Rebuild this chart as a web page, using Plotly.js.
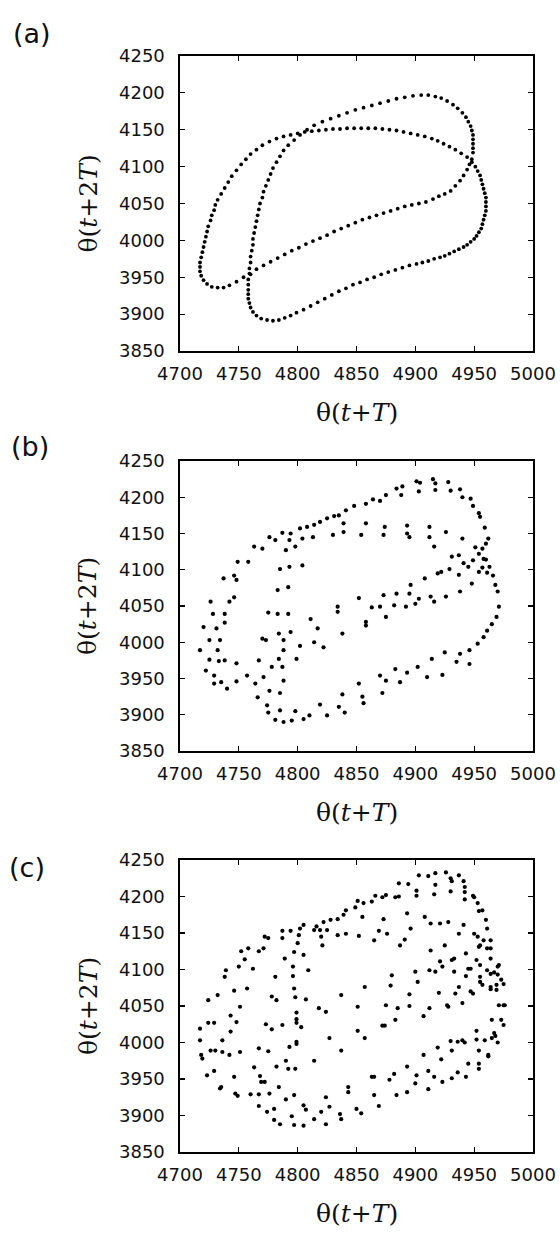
<!DOCTYPE html>
<html>
<head>
<meta charset="utf-8">
<script src="https://cdn.plot.ly/plotly-3.0.1.min.js"></script>
<style>html,body{margin:0;padding:0;background:#fff;}#chart{width:560px;height:1237px;}</style>
</head>
<body>
<div id="chart"></div>
<script>
// Panel (a): points along the closed orbit
const aX = [4948,4946,4944,4941,4938,4934,4930,4925,4920,4915,4909,4903,4897,4891,4885,4879,4873,4867,4861,4855,4849,4843,4837,4831,4825,4819,4813,4807,4801,4795,4789,4783,4777,4771,4765,4760,4754,4748,4742,
4737,4732,4727,4723,4720,4718,4717,4717,4717,4718,4719,4720,4721,4722,4723,4724,4726,4727,4729,4730,4732,4735,4738,4741,4744,4748,4752,4756,4760,4765,4770,4776,4782,4788,4794,4800,4806,4812,4818,4824,4830,4836,4842,4848,4854,4860,4866,4872,4878,4884,4890,4896,4902,4908,4914,4919,4924,4929,4934,4939,4944,
4948,4951,4953,4955,4956,4957,4958,4959,4960,4960,4960,4960,4959,4958,4957,4956,4954,4952,4950,4947,4944,4941,4937,4933,4929,4925,4921,4916,4911,4906,4901,4895,4889,4883,4877,4871,4865,4859,4853,4847,4841,4835,4829,4823,4817,4811,4805,4799,4794,4789,4784,4779,4774,4769,4765,4762,4760,4759,4758,4758,4758,4758,4758,
4759,4759,4760,4760,4761,4762,4762,4763,4764,4765,4766,4767,4768,4770,4771,4773,4775,4777,4779,4782,4785,4788,4792,4797,4802,4808,4814,4821,4828,4835,4842,4849,4856,4863,4870,4877,4884,4891,4898,4905,4911,4917,4922,4927,4932,4936,4940,4943,4945,4947,4948,4949,4949,4949,4949,4949];
const aY = [4110,4103,4096,4088,4081,4074,4067,4063,4060,4056,4052,4050,4048,4046,4043,4040,4037,4034,4031,4028,4024,4020,4016,4012,4007,4003,3999,3995,3990,3986,3981,3976,3971,3966,3961,3954,3950,3944,3939,
3936,3936,3937,3941,3946,3952,3958,3964,3970,3977,3984,3991,3998,4005,4012,4019,4027,4034,4041,4048,4055,4063,4071,4079,4087,4095,4103,4110,4117,4123,4129,4134,4138,4141,4143,4145,4147,4148,4149,4150,4151,4151,4152,4152,4152,4152,4152,4151,4150,4149,4147,4145,4143,4141,4138,4135,4131,4127,4123,4118,4113,
4106,4100,4094,4088,4082,4076,4070,4064,4058,4052,4046,4040,4034,4028,4022,4016,4011,4006,4002,3998,3994,3991,3988,3985,3982,3979,3977,3975,3972,3970,3968,3966,3963,3960,3957,3954,3950,3947,3943,3940,3935,3931,3926,3921,3916,3911,3906,3902,3898,3895,3892,3891,3892,3894,3898,3903,3909,3915,3921,3927,3933,3940,3947,
3955,3962,3970,3978,3986,3994,4002,4010,4018,4026,4034,4042,4050,4058,4066,4074,4082,4090,4098,4106,4114,4122,4129,4136,4143,4150,4156,4161,4165,4169,4173,4177,4180,4183,4186,4189,4192,4194,4196,4197,4197,4195,4193,4189,4184,4179,4173,4167,4161,4155,4149,4143,4137,4131,4125,4119];

// Panel (b): scattered points
const bX = [4901,4904,4903,4915,4917,4917,4928,4930,4938,4940,4947,4949,4954,4955,4959,4962,4960,4957,4958,4963,4966,4968,4970,4971,4969,4965,4961,4958,4953,4946,4946,4938,4935,4925,4923,4914,4910,4902,4893,4887,4883,4875,4870,4872,4852,4856,4855,4838,4840,4835,4825,4819,4810,4805,4798,4795,4788,4781,4785,4775,4774,4766,4776,4785,4764,4771,4757,4748,4740,4735,4729,4729,4722,4725,4717,4732,4733,4738,4748,4725,4734,4720,4731,4738,4728,4738,4726,4742,4746,4737,4746,4748,4749,4758,4763,4770,4776,4781,4787,4794,4802,4808,4814,4819,4825,4831,4835,4841,4848,4858,4864,4870,4875,4884,4888,4889,
4790,4793,4798,4804,4813,4804,4793,4785,4792,4783,4783,4792,4784,4788,4794,4802,4799,4788,4784,4778,4787,4788,4773,4770,4767,4775,4811,4817,4814,4822,4834,4834,4838,4852,4863,4858,4858,4870,4873,4875,4882,4884,4892,4895,4896,4900,4903,4908,4913,4916,4919,4922,4926,4929,4931,4937,4937,4938,4941,4945,4949,4948,4954,4951,4954,4957,4961,4960,4940,4926,4916,4912,4912,4893,4893,4895,4874,4873,4858,4854,4839,4839,4830];
const bY = [4222,4220,4208,4225,4210,4219,4221,4209,4211,4200,4198,4188,4178,4173,4158,4143,4136,4129,4115,4104,4092,4079,4070,4049,4035,4025,4016,4007,3998,3989,3970,3984,3973,3986,3955,3977,3952,3966,3958,3945,3963,3947,3954,3930,3943,3916,3925,3928,3903,3911,3899,3914,3899,3894,3905,3892,3890,3893,3906,3903,3913,3924,3933,3930,3943,3952,3954,3946,3936,3945,3943,3954,3961,3976,3989,3989,3974,3975,3971,4003,4003,4021,4019,4027,4039,4039,4056,4056,4062,4088,4092,4086,4111,4111,4132,4129,4145,4141,4151,4150,4157,4159,4162,4166,4171,4174,4175,4182,4188,4191,4197,4195,4203,4212,4203,4215,
4127,4141,4132,4143,4145,4106,4104,4101,4076,4072,4039,4039,4012,4003,4014,3995,3977,3989,3977,3966,3966,3947,4003,4005,3975,4041,4032,4019,4000,3993,4049,4042,4012,4061,4048,4028,4023,4049,4065,4035,4051,4067,4049,4067,4079,4053,4060,4088,4063,4056,4095,4097,4063,4101,4118,4120,4093,4070,4109,4104,4113,4081,4122,4131,4097,4103,4096,4114,4143,4152,4132,4159,4145,4161,4150,4145,4159,4148,4164,4148,4164,4152,4148];

// Panel (c): scattered points
const cX = [4903,4911,4917,4926,4930,4931,4937,4941,4917,4930,4942,4942,4942,4916,4901,4901,4894,4886,4886,4883,4875,4872,4866,4863,4856,4851,4849,4841,4839,4834,4828,4822,4816,4819,4814,4805,4802,4801,4794,4787,4787,4775,4772,4771,4767,4758,4752,4755,4750,4762,4739,4738,4732,4724,4724,4729,4717,4717,4718,4719,4723,4729,4726,4730,4736,4736,4742,4743,4743,4748,4746,4751,4757,
4734,4735,4746,4747,4749,4751,4760,4767,4767,4774,4780,4780,4785,4768,4769,4772,4763,4767,4775,4776,4784,4782,4790,4790,4792,4798,4797,4795,4797,4805,4805,4807,4814,4820,4824,4824,4827,4836,4837,4843,4843,4850,4854,4863,4865,4865,4869,4878,4882,4884,4893,4893,4900,4901,4911,4911,4916,4923,4931,4936,4943,4945,4954,4954,4954,4962,4962,4970,4968,4965,4959,4952,4952,4940,4942,4936,4931,4930,4922,4919,4907,
4907,4920,4928,4934,4940,4949,4947,4945,4933,4931,4933,4921,4912,4917,4913,4921,4928,4925,4941,4943,4947,4937,4950,4953,4954,4955,4958,4961,4964,4964,4961,4960,4957,4953,4954,4950,4949,4952,4955,4955,4955,4957,4961,4964,4964,4964,4967,4970,4971,4970,4969,4973,4975,4971,4975,4976,4973,4975,4965,4967,4969,4964,
4880,4879,4875,4872,4874,4857,4851,4851,4857,4837,4837,4827,4824,4818,4814,4807,4809,4805,4800,4797,4796,4796,4797,4798,4799,4799,4799,4803,4799,4799,4793,4787,4789,4781,4778,4782,4773,4778,4825,4820,4821,4834,4841,4852,4855,4865,4869,4873,4876,4887,4891,4893,4896,4900,4902,4895,4895,4885,4883,4908,4912,4923,4927,4937,4943,4913];
const cY = [4229,4228,4232,4233,4225,4221,4229,4221,4216,4207,4213,4206,4196,4203,4208,4201,4217,4218,4200,4199,4202,4199,4201,4193,4191,4194,4185,4181,4175,4169,4168,4165,4159,4154,4154,4161,4156,4147,4153,4153,4143,4143,4145,4129,4125,4129,4125,4114,4104,4101,4099,4090,4065,4058,4027,4027,4019,4003,3983,3978,3955,3961,3989,3989,4003,3987,3983,4015,4037,4028,4071,4049,4074,
3937,3939,3953,3930,3927,3987,3929,3929,3913,3905,3909,3894,3888,3954,3946,3946,3966,3992,3988,3930,3939,3967,3922,3975,3964,3964,3928,3899,3887,3886,3914,3908,3895,3905,3925,3888,3912,3902,3895,3939,3932,3909,3903,3953,3953,3928,3913,3949,3957,3928,3932,3967,3944,3955,3936,3961,3953,3946,3951,3959,3953,3971,3964,3971,3989,3983,3981,4000,4009,4006,4003,4004,4016,4003,4000,4001,3989,4002,3977,3993,3983,
4036,4068,4049,4067,4054,4067,4070,4101,4097,4113,4115,4111,4099,4097,4126,4163,4165,4133,4161,4122,4101,4149,4149,4145,4131,4133,4140,4129,4129,4140,4156,4168,4181,4191,4180,4199,4201,4113,4106,4090,4083,4079,4099,4094,4076,4115,4096,4104,4106,4093,4079,4086,4080,4051,4051,4051,4031,4024,4031,4013,4072,4073,
4092,4078,4051,4023,4023,4076,4049,4016,4006,4065,3989,4006,4042,4047,3975,4059,4099,4120,4136,4124,4104,4091,4074,4062,4041,4032,4027,4021,4001,3998,3994,4024,4115,4090,4063,4058,4025,4018,4154,4145,4133,4147,4149,4146,4172,4140,4153,4169,4149,4133,4141,4177,4156,4097,4083,4066,4050,4047,4031,4172,4047,4104,4051,4076,4091,4163];

const xTickVals = [4700,4750,4800,4850,4900,4950,5000];
const yTickVals = [3850,3900,3950,4000,4050,4100,4150,4200,4250];
const panelLabels = ['(a)','(b)','(c)'];
const xTitle = 'θ(<i>t</i>+<i>T</i>)';
const yTitle = 'θ(<i>t</i>+2<i>T</i>)';

const H = 1237, W = 560;
const xdom = [180/W, 533/W];
const panels = [[56,351],[461,751],[860,1152]];
function ydom(p){ return [1 - p[1]/H, 1 - p[0]/H]; }

const marker = {color:'#000', size:4.2, symbol:'circle'};
const traces = [
  {x:aX, y:aY, mode:'markers', type:'scatter', marker:Object.assign({}, marker, {size:3.8}), xaxis:'x', yaxis:'y'},
  {x:bX, y:bY, mode:'markers', type:'scatter', marker:marker, xaxis:'x2', yaxis:'y2'},
  {x:cX, y:cY, mode:'markers', type:'scatter', marker:marker, xaxis:'x3', yaxis:'y3'}
];

function xa(anchor){
  return {domain:xdom, anchor:anchor, range:[4700,5000], tickvals:xTickVals, ticks:'inside', ticklen:5, tickwidth:1.2,
    tickcolor:'#000', showline:true, linecolor:'#000', linewidth:1.6, mirror:'ticks', showgrid:false, zeroline:false,
    tickfont:{family:'DejaVu Sans', size:18, color:'#111'}, ticklabelstandoff:6, fixedrange:true};
}
function ya(anchor, p){
  return {domain:ydom(p), anchor:anchor, range:[3850,4250], tickvals:yTickVals, ticks:'inside', ticklen:5, tickwidth:1.2,
    tickcolor:'#000', showline:true, linecolor:'#000', linewidth:1.6, mirror:'ticks', showgrid:false, zeroline:false,
    tickfont:{family:'DejaVu Sans', size:18, color:'#111'}, ticklabelstandoff:10, fixedrange:true};
}

const annotations = [];
const cx = (180+533)/2/W;
panels.forEach((p,i)=>{
  annotations.push({text:xTitle, xref:'paper', yref:'paper', x:cx, y:1-(p[1]+61)/H, xanchor:'center', yanchor:'middle', showarrow:false,
    font:{family:'DejaVu Serif', size:25, color:'#111'}});
  annotations.push({text:yTitle, xref:'paper', yref:'paper', x:88/W, y:1-((p[0]+p[1])/2)/H, xanchor:'center', yanchor:'middle', textangle:-90, showarrow:false,
    font:{family:'DejaVu Serif', size:25, color:'#111'}});
});
const labelPos = [[32,34],[30,446],[27,867]];
panelLabels.forEach((t,i)=>{
  annotations.push({text:t, xref:'paper', yref:'paper', x:labelPos[i][0]/W, y:1-labelPos[i][1]/H, xanchor:'center', yanchor:'middle', showarrow:false,
    font:{family:'DejaVu Sans', size:27, color:'#111'}});
});

const layout = {
  width:W, height:H, margin:{l:0,r:0,t:0,b:0}, showlegend:false,
  paper_bgcolor:'#fff', plot_bgcolor:'#fff',
  xaxis:xa('y'), yaxis:ya('x', panels[0]),
  xaxis2:xa('y2'), yaxis2:ya('x2', panels[1]),
  xaxis3:xa('y3'), yaxis3:ya('x3', panels[2]),
  annotations:annotations
};
Plotly.newPlot('chart', traces, layout, {staticPlot:true, displayModeBar:false});
</script>
</body>
</html>
